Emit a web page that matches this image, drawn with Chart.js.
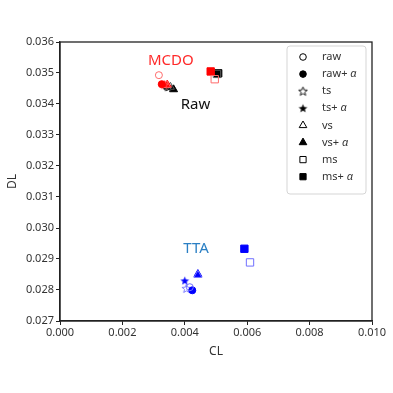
<!DOCTYPE html>
<html>
<head>
<meta charset="utf-8">
<script src="https://cdn.jsdelivr.net/npm/chart.js@4/dist/chart.umd.min.js"></script>
<style>
  html, body { margin: 0; padding: 0; background: #fff; }
  #wrap { width: 393px; height: 393px; }
</style>
</head>
<body>
<div id="wrap"><canvas id="out" width="393" height="393"></canvas></div>
<script>
// marker order: raw, raw+a, ts, ts+a, vs, vs+a, ms, ms+a
const markerLabels = ["raw", "raw+", "ts", "ts+", "vs", "vs+", "ms", "ms+"];
const markerAlpha = [false, true, false, true, false, true, false, true];

const mcdoCL = [0.00317, 0.00326, 0.00334, 0.00336, 0.00342, 0.00344, 0.00496, 0.00483];
const mcdoDL = [0.03493, 0.03464, 0.03462, 0.03463, 0.03461, 0.03462, 0.03480, 0.03505];

const rawCL = [0.00340, 0.00342, 0.00345, 0.00347, 0.00354, 0.00364, 0.00503, 0.00507];
const rawDL = [0.03457, 0.03456, 0.03456, 0.03455, 0.03455, 0.03447, 0.03497, 0.03499];

const ttaCL = [0.00416, 0.00424, 0.00405, 0.00400, 0.00442, 0.00442, 0.00609, 0.00591];
const ttaDL = [0.02809, 0.02799, 0.02805, 0.02830, 0.02848, 0.02851, 0.02889, 0.02933];

const xTicks = [0, 0.002, 0.004, 0.006, 0.008, 0.010];
const yTicks = [0.027, 0.028, 0.029, 0.030, 0.031, 0.032, 0.033, 0.034, 0.035, 0.036];

const fontName = "'Noto Sans', 'DejaVu Sans', sans-serif";

function makeStar(color, filled) {
  const c = document.createElement("canvas");
  c.width = 11; c.height = 11;
  const g = c.getContext("2d");
  g.beginPath();
  for (let i = 0; i < 10; i++) {
    const r = i % 2 === 0 ? 4.6 : 2.0;
    const a = -Math.PI / 2 + i * Math.PI / 5;
    const px = 5.5 + r * Math.cos(a), py = 5.8 + r * Math.sin(a);
    if (i === 0) g.moveTo(px, py); else g.lineTo(px, py);
  }
  g.closePath();
  if (filled) { g.fillStyle = color; g.fill(); }
  else { g.strokeStyle = color; g.lineWidth = 0.9; g.stroke(); }
  return c;
}

function shapeOf(i, color) {
  if (i < 2) return { style: "circle", radius: 3.5 };
  if (i < 4) return { style: makeStar(color, i === 3), radius: 5 };
  if (i < 6) return { style: "triangle", radius: 4.6 };
  return { style: "rect", radius: 5.2 };
}

function groupSets(cl, dl, color, light) {
  return markerLabels.map((lab, i) => {
    const s = shapeOf(i, markerAlpha[i] ? color : light);
    return {
      label: lab,
      data: [{ x: cl[i], y: dl[i] }],
      pointStyle: s.style,
      pointRadius: s.radius,
      pointHoverRadius: s.radius,
      pointBackgroundColor: markerAlpha[i] ? color : "rgba(255,255,255,0)",
      pointBorderColor: markerAlpha[i] ? color : light,
      pointBorderWidth: 1
    };
  });
}

const datasets = [].concat(
  groupSets(mcdoCL, mcdoDL, "#ff0000", "#ff6b6b"),
  groupSets(rawCL, rawDL, "#000000", "#555555"),
  groupSets(ttaCL, ttaDL, "#0000ff", "#7070ff")
);

const extras = {
  id: "extras",
  afterDraw(chart) {
    const ctx = chart.ctx;
    const a = chart.chartArea;
    const xs = chart.scales.x, ys = chart.scales.y;
    ctx.save();
    // frame
    ctx.strokeStyle = "#222";
    ctx.lineWidth = 1.3;
    ctx.strokeRect(a.left, a.top, a.right - a.left, a.bottom - a.top);

    // group labels
    ctx.font = "15px " + fontName;
    ctx.textAlign = "center";
    ctx.textBaseline = "middle";
    ctx.fillStyle = "#ff2a2a";
    ctx.fillText("MCDO", xs.getPixelForValue(0.00355), ys.getPixelForValue(0.03540));
    ctx.fillStyle = "#111";
    ctx.fillText("Raw", xs.getPixelForValue(0.00434), ys.getPixelForValue(0.03397));
    ctx.fillStyle = "#2a7fc4";
    ctx.fillText("TTA", xs.getPixelForValue(0.00436), ys.getPixelForValue(0.02934));

    // legend
    const bx = a.right - 85, by = a.top + 4, bw = 79, bh = 148;
    ctx.fillStyle = "rgba(255,255,255,0.85)";
    ctx.strokeStyle = "#d5d5d5";
    ctx.lineWidth = 1;
    ctx.beginPath();
    ctx.roundRect(bx, by, bw, bh, 3);
    ctx.fill();
    ctx.stroke();
    ctx.textAlign = "left";
    markerLabels.forEach((lab, i) => {
      const yy = by + 11 + i * 17.1;
      const s = shapeOf(i, "#000");
      const r = i < 2 ? 3.3 : (i < 4 ? 4 : 4.4);
      ctx.fillStyle = markerAlpha[i] ? "#000" : "#fff";
      ctx.strokeStyle = "#000";
      ctx.lineWidth = 1;
      Chart.helpers.drawPoint(ctx, {
        pointStyle: s.style, radius: r, rotation: 0, borderWidth: 1
      }, bx + 16, yy);
      ctx.fillStyle = "#333";
      ctx.font = "11px " + fontName;
      ctx.fillText(lab, bx + 35, yy);
      if (markerAlpha[i]) {
        const w = ctx.measureText(lab + " ").width;
        ctx.font = "italic 11px " + fontName;
        ctx.fillText("\u03b1", bx + 35 + w, yy);
      }
    });
    ctx.restore();
  }
};

new Chart(document.getElementById("out").getContext("2d"), {
  type: "scatter",
  data: { datasets: datasets },
  options: {
    responsive: false,
    animation: false,
    layout: { padding: { top: 42, right: 21, bottom: 34, left: 5 } },
    plugins: { legend: { display: false }, tooltip: { enabled: false } },
    scales: {
      x: {
        type: "linear",
        min: 0, max: 0.010,
        afterBuildTicks: s => { s.ticks = xTicks.map(v => ({ value: v })); },
        afterFit: s => { s.height = 38; },
        grid: { drawOnChartArea: false, drawTicks: true, tickLength: 4, color: "#222" },
        border: { color: "#222", width: 1.3 },
        ticks: {
          color: "#333", font: { family: fontName, size: 11 }, padding: 1,
          callback: v => v.toFixed(3)
        },
        title: { display: true, text: "CL", color: "#333", font: { family: fontName, size: 12 }, padding: { top: 1, bottom: 0 } }
      },
      y: {
        type: "linear",
        min: 0.027, max: 0.036,
        afterBuildTicks: s => { s.ticks = yTicks.map(v => ({ value: v })); },
        afterFit: s => { s.width = 55; },
        grid: { drawOnChartArea: false, drawTicks: true, tickLength: 4, color: "#222" },
        border: { color: "#222", width: 1.3 },
        ticks: {
          color: "#333", font: { family: fontName, size: 11 }, padding: 2,
          callback: v => v.toFixed(3)
        },
        title: { display: true, text: "DL", color: "#333", font: { family: fontName, size: 12 }, padding: { top: 0, bottom: 2 } }
      }
    }
  },
  plugins: [extras]
});
</script>
</body>
</html>
